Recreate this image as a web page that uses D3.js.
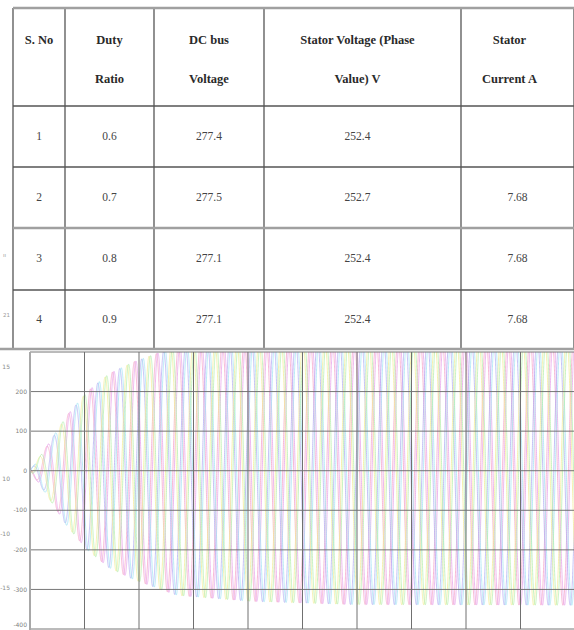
<!DOCTYPE html>
<html>
<head>
<meta charset="utf-8">
<script src="https://cdn.jsdelivr.net/npm/d3@7"></script>
<style>
  body { margin: 0; background: #fff; }
  svg { display: block; }
</style>
</head>
<body>
<svg></svg>
<script>
// table contents
var headers = [["S. No"], ["Duty", "Ratio"], ["DC bus", "Voltage"], ["Stator Voltage (Phase", "Value) V"], ["Stator", "Current A"]]
var sNo = ["1", "2", "3", "4"]
var dutyRatio = ["0.6", "0.7", "0.8", "0.9"]
var dcBus = ["277.4", "277.5", "277.1", "277.1"]
var statorVoltage = ["252.4", "252.7", "252.4", "252.4"]
var statorCurrent = ["", "7.68", "7.68", "7.68"]

// waveform plot
var yTicks = [300, 200, 100, 0, -100, -200, -300, -400]
var yLabels = ["", "200", "100", "0", "-100", "-200", "-300", "-400"]
var xTicks = [0, 0.02, 0.04, 0.06, 0.08, 0.1, 0.12, 0.14, 0.16, 0.18, 0.2]
// amplitude envelope (time s, volts)
var envTime = [0, 0.006, 0.0136, 0.021, 0.029, 0.038, 0.054, 0.081, 0.117, 0.2]
var envAmp = [0, 60, 140, 200, 245, 275, 315, 330, 338, 340]
var phaseDeg = [0, -120, 120]
var currentLagDeg = 25
var freqHz = 124
var voltColors = ["#f5a3c7", "#b3aef2", "#f3eb96"]
var currColors = ["#e7a2ea", "#a3e4f4", "#b6efae"]
// stray labels cut off at the left edge of the picture
var strayText = ["15", "10", "-10", "-15"]
var strayVal = [262, -20, -160, -295]

var width = 574
var height = 630
var serif = "'Liberation Serif', 'DejaVu Serif', serif"
var sans = "'DejaVu Sans', sans-serif"

var svg = d3.select("svg")
  .attr("width", width)
  .attr("height", height)

// ---------- chart ----------
var plot = { left: 30, right: 575, top: 352, bottom: 629 }

var x = d3.scaleLinear().domain([0, 0.2]).range([plot.left, plot.right])
var y = d3.scaleLinear().domain([-400, 300]).range([plot.bottom, plot.top])

svg.append("clipPath").attr("id", "clip")
  .append("rect")
  .attr("x", plot.left).attr("y", plot.top)
  .attr("width", plot.right - plot.left).attr("height", plot.bottom - plot.top)

var chart = svg.append("g")

var envelope = d3.scaleLinear().domain(envTime).range(envAmp).clamp(true)
var times = d3.range(0, 0.2, 0.00002)

var traces = []
phaseDeg.forEach(function (p, i) {
  traces.push({ color: voltColors[i], shift: p })
  traces.push({ color: currColors[i], shift: p - currentLagDeg })
})

var line = d3.line()
  .x(function (d) { return x(d[0]) })
  .y(function (d) { return y(d[1]) })

chart.append("g")
  .attr("clip-path", "url(#clip)")
  .selectAll("path")
  .data(traces)
  .enter().append("path")
  .attr("fill", "none")
  .attr("stroke", function (d) { return d.color })
  .attr("stroke-width", 0.9)
  .attr("stroke-opacity", 0.85)
  .attr("d", function (d) {
    return line(times.map(function (t) {
      return [t, -envelope(t) * Math.sin(2 * Math.PI * freqHz * t + d.shift * Math.PI / 180)]
    }))
  })

// grid
chart.append("g")
  .selectAll("line")
  .data(yTicks)
  .enter().append("line")
  .attr("x1", plot.left).attr("x2", plot.right)
  .attr("y1", function (d) { return y(d) }).attr("y2", function (d) { return y(d) })
  .attr("stroke", "#666")
  .attr("stroke-width", 0.9)

chart.append("g")
  .selectAll("line")
  .data(xTicks.slice(1))
  .enter().append("line")
  .attr("x1", function (d) { return x(d) }).attr("x2", function (d) { return x(d) })
  .attr("y1", plot.top).attr("y2", plot.bottom)
  .attr("stroke", "#707070")
  .attr("stroke-width", 1)

// left axis line
chart.append("line")
  .attr("x1", plot.left).attr("x2", plot.left)
  .attr("y1", plot.top).attr("y2", height)
  .attr("stroke", "#a8a8a8")
  .attr("stroke-width", 2)

chart.append("g")
  .selectAll("text")
  .data(yTicks)
  .enter().append("text")
  .attr("x", plot.left - 3)
  .attr("y", function (d) { return Math.min(y(d), 625) })
  .attr("dy", "0.35em")
  .attr("text-anchor", "end")
  .style("font-family", sans)
  .style("font-size", "6px")
  .style("fill", "#808080")
  .text(function (d, i) { return yLabels[i] })

chart.append("g")
  .selectAll("text")
  .data(strayVal)
  .enter().append("text")
  .attr("x", 10)
  .attr("y", function (d) { return y(d) })
  .attr("dy", "0.35em")
  .attr("text-anchor", "end")
  .style("font-family", sans)
  .style("font-size", "6px")
  .style("fill", "#8a8a8a")
  .text(function (d, i) { return strayText[i] })

// ---------- table ----------
var colEdges = [13, 65, 154, 264, 461, 574]
var rowEdges = [8, 106, 167, 228, 290, 349]
var columns = [sNo, dutyRatio, dcBus, statorVoltage, statorCurrent]

var table = svg.append("g")

table.append("rect")
  .attr("x", colEdges[0]).attr("y", rowEdges[0])
  .attr("width", colEdges[5] - colEdges[0]).attr("height", rowEdges[5] - rowEdges[0])
  .attr("fill", "#fff")

var colMid = function (i) { return (colEdges[i] + colEdges[i + 1]) / 2 }
var rowMid = function (i) { return (rowEdges[i] + rowEdges[i + 1]) / 2 }

// header text, two lines
headers.forEach(function (h, i) {
  table.append("g")
    .selectAll("text")
    .data(h)
    .enter().append("text")
    .attr("x", colMid(i) - (i == 4 ? 8 : i == 3 ? 5 : 0))
    .attr("y", function (d, j) { return 44 + j * 39 })
    .attr("text-anchor", "middle")
    .style("font-family", serif)
    .style("font-weight", "bold")
    .style("font-size", "12.5px")
    .style("fill", "#2a2a2a")
    .text(function (d) { return d })
})

columns.forEach(function (col, i) {
  table.append("g")
    .selectAll("text")
    .data(col)
    .enter().append("text")
    .attr("x", colMid(i) - (i == 3 ? 5 : 0))
    .attr("y", function (d, j) { return rowMid(j + 1) - 1 })
    .attr("dy", "0.35em")
    .attr("text-anchor", "middle")
    .style("font-family", serif)
    .style("font-size", "11.5px")
    .style("fill", "#444")
    .text(function (d) { return d })
})

// borders
table.selectAll("line.v")
  .data(colEdges)
  .enter().append("line")
  .attr("x1", function (d) { return d }).attr("x2", function (d) { return d })
  .attr("y1", rowEdges[0]).attr("y2", rowEdges[5])
  .attr("stroke", "#555")
  .attr("stroke-width", 1.3)

var heavy = [true, false, false, true, false, true]
table.selectAll("line.h")
  .data(rowEdges)
  .enter().append("line")
  .attr("x1", function (d, i) { return i == 5 ? 0 : colEdges[0] })
  .attr("x2", colEdges[5])
  .attr("y1", function (d) { return d }).attr("y2", function (d) { return d })
  .attr("stroke", function (d, i) { return heavy[i] ? "#a0a0a0" : "#555" })
  .attr("stroke-width", function (d, i) { return heavy[i] ? 2.6 : 1.3 })

// small clipped labels left of the table
table.selectAll("text.stray")
  .data(["ıı", "21"])
  .enter().append("text")
  .attr("x", 3)
  .attr("y", function (d, i) { return rowMid(i + 3) - 4 })
  .attr("dy", "0.35em")
  .style("font-family", sans)
  .style("font-size", "5.5px")
  .style("fill", "#999")
  .text(function (d) { return d })
</script>
</body>
</html>
